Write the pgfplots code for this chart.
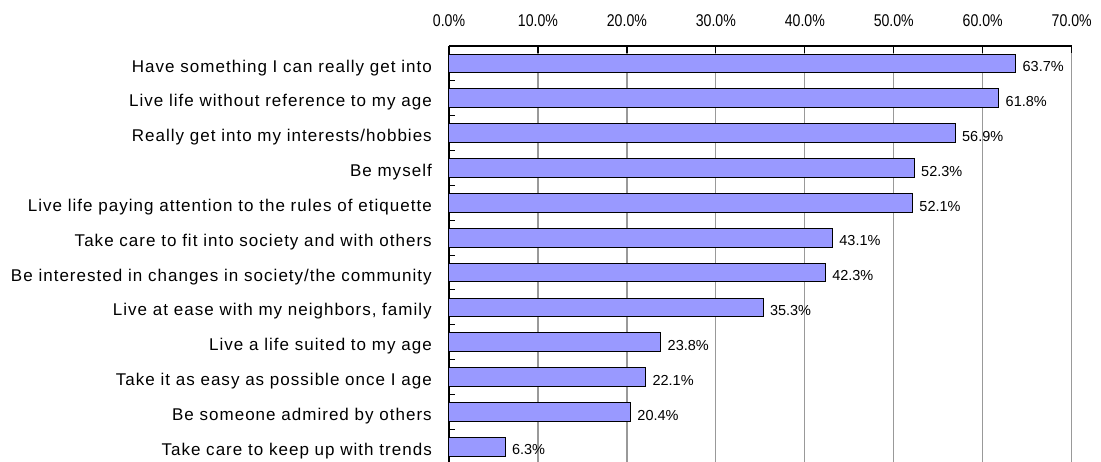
\documentclass[border=0pt]{standalone}
\usepackage{pgfplots}
\pgfplotsset{compat=1.18}
\usepackage{fontspec}
\setmainfont{Liberation Sans}
\newfontfamily\catfont{Liberation Sans}[LetterSpace=6]
\newfontfamily\tickfont{Liberation Sans}[FakeStretch=0.83]
\definecolor{barfill}{HTML}{9999FF}
\definecolor{gridgray}{HTML}{999999}
\begin{document}
\begin{tikzpicture}
\begin{axis}[
  scale only axis,
  width=622.7pt, height=418.1pt,
  xmin=0, xmax=70,
  ymin=0.5, ymax=12.5,
  y dir=reverse,
  axis x line=top,
  axis y line=left,
  axis line style={-, black, line width=1.2pt},
  xtick={0,10,...,70},
  xticklabels={0.0\%,10.0\%,20.0\%,30.0\%,40.0\%,50.0\%,60.0\%,70.0\%},
  xticklabel style={font=\fontsize{17}{17}\tickfont, anchor=base, yshift=20pt, inner sep=0pt},
  tick align=inside,
  major tick length=6.5pt,
  minor tick length=6pt,
  major x tick style={black, line width=1.2pt},
  xmajorgrids,
  major x grid style={gridgray, line width=1.2pt},
  ytick={1,...,12},
  yticklabels={Have something I can really get into,
    Live life without reference to my age,
    Really get into my interests/hobbies,
    Be myself,
    Live life paying attention to the rules of etiquette,
    Take care to fit into society and with others,
    Be interested in changes in society/the community,
    {Live at ease with my neighbors, family},
    Live a life suited to my age,
    Take it as easy as possible once I age,
    Be someone admired by others,
    Take care to keep up with trends},
  yticklabel style={font=\fontsize{17}{17}\catfont, anchor=base east, yshift=-8.5pt, xshift=-17pt, inner sep=0pt},
  major y tick style={draw=none},
  minor ytick={1.5,2.5,...,11.5},
  minor y tick style={black, line width=1pt},
  clip=false,
]
\addplot[xbar, bar width=0.54, fill=barfill, draw=black, line width=1pt,
  point meta=x,
  nodes near coords={\pgfmathprintnumber[fixed,fixed zerofill,precision=1,assume math mode=true]{\pgfplotspointmeta}\%},
  nodes near coords style={font=\fontsize{14.5}{14.5}\selectfont, anchor=base west, inner sep=0pt, xshift=6.5pt, yshift=-8.2pt, black}]
coordinates {
(63.7,1) (61.8,2) (56.9,3) (52.3,4) (52.1,5) (43.1,6)
(42.3,7) (35.3,8) (23.8,9) (22.1,10) (20.4,11) (6.3,12)
};
\end{axis}
\pgfresetboundingbox
\useasboundingbox (-449pt,2.2pt) rectangle (652pt,464.2pt);
\end{tikzpicture}
\end{document}
